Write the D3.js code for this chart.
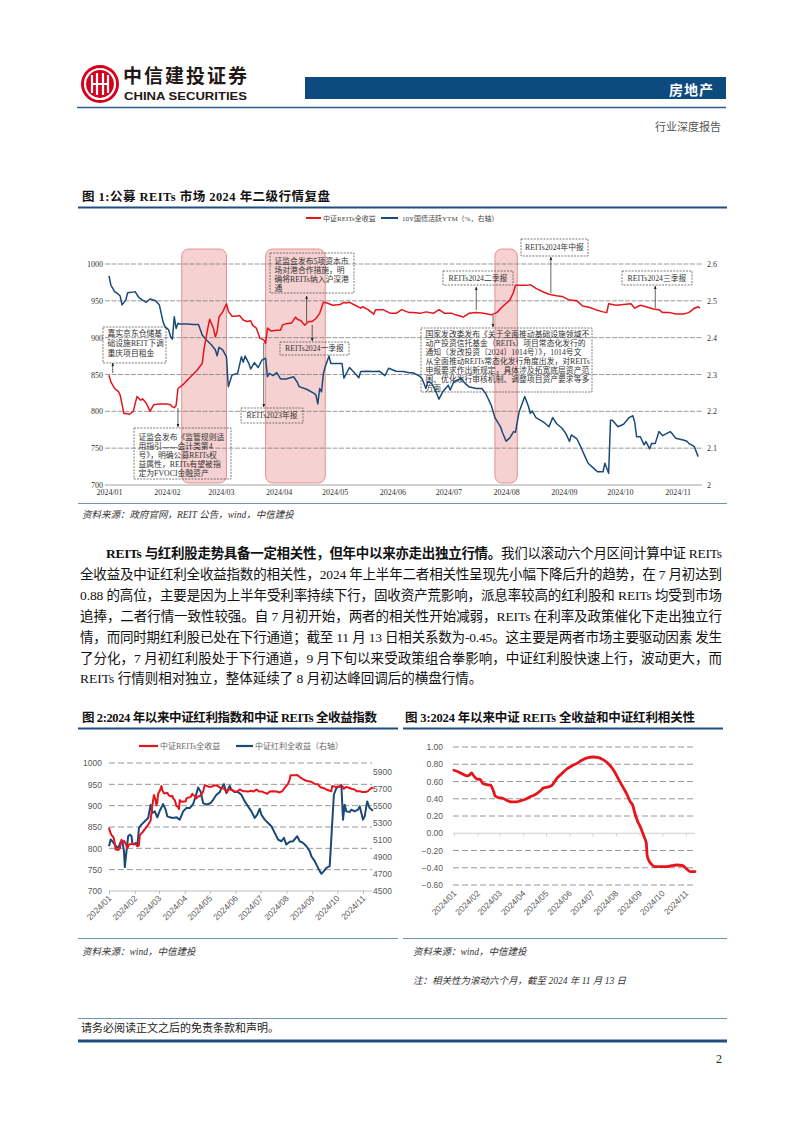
<!DOCTYPE html>
<html><head><meta charset="utf-8">
<script src="https://cdn.jsdelivr.net/npm/d3@7/dist/d3.min.js"></script>
<style>
body{margin:0;background:#fff;}
</style></head><body>
<svg id="page" width="802" height="1133" xmlns="http://www.w3.org/2000/svg"></svg>
<script>
// ---------------- DATA ----------------
// Chart 1 & 2: 中证REITs全收益 (left axis)
const reitsDates = ["01-01","01-02","01-04","01-06","01-07","01-09","01-10","01-12","01-14","01-16","01-18","01-19","01-21","01-23","01-25","01-28","02-01","02-03","02-04","02-05","02-06","02-07","02-10","02-13","02-17","02-20","02-21","02-23","02-24","02-26","02-27","02-28","02-29","03-02","03-04","03-05","03-07","03-09","03-11","03-13","03-15","03-17","03-18","03-20","03-22","03-24","03-25","03-26","03-28","03-31","04-02","04-03","04-05","04-08","04-10","04-11","04-13","04-15","04-17","04-19","04-21","04-23","04-25","04-27","04-30","05-04","05-06","05-07","05-09","05-12","05-15","05-16","05-19","05-22","05-23","05-27","05-31","06-03","06-06","06-10","06-12","06-16","06-19","06-23","06-26","06-29","07-03","07-05","07-09","07-12","07-16","07-20","07-24","07-27","07-30","08-03","08-05","08-06","08-08","08-12","08-14","08-17","08-21","08-24","08-28","08-31","09-04","09-08","09-11","09-15","09-18","09-22","09-24","09-25","09-29","10-03","10-07","10-09","10-12","10-15","10-19","10-22","10-24","10-28","10-31","11-04","11-07","11-10","11-12","11-13"];
const reitsValues = [849,840,831,827,822,797,797,796,800,820,815,817,811,800,809,810,810,809,806,805,808,831,837,845,855,865,885,913,925,913,901,908,928,935,946,936,929,929,930,924,922,923,917,913,899,897,892,913,909,910,910,917,919,920,928,925,923,917,922,922,926,933,948,947,944,945,948,947,948,944,940,942,938,932,938,938,933,933,938,934,934,933,935,933,938,933,933,931,928,933,934,933,931,934,942,951,962,971,971,971,972,967,962,959,957,956,951,950,943,941,938,935,934,946,944,945,946,940,944,942,939,938,934,934,932,932,934,940,942,940];
// Chart 1: 10Y国债活跃YTM (%, right axis)
const ytmDates = ["01-01","01-02","01-04","01-06","01-07","01-08","01-10","01-11","01-13","01-15","01-17","01-19","01-21","01-23","01-26","01-28","01-30","01-31","02-02","02-03","02-04","02-05","02-06","02-07","02-08","02-12","02-15","02-18","02-20","02-22","02-25","02-27","02-28","02-29","03-02","03-04","03-05","03-07","03-08","03-10","03-12","03-13","03-14","03-16","03-17","03-19","03-21","03-23","03-25","03-26","03-27","03-29","03-31","04-02","04-05","04-09","04-11","04-12","04-16","04-20","04-21","04-22","04-23","04-24","04-25","04-26","04-28","04-29","05-02","05-05","05-06","05-09","05-12","05-14","05-15","05-18","05-22","05-25","05-28","05-30","06-03","06-07","06-10","06-12","06-16","06-17","06-19","06-20","06-22","06-24","06-26","06-28","07-01","07-02","07-04","07-06","07-08","07-10","07-12","07-16","07-19","07-21","07-24","07-26","07-29","07-30","08-01","08-03","08-05","08-06","08-08","08-11","08-13","08-14","08-15","08-17","08-20","08-22","08-24","08-26","08-28","08-31","09-02","09-04","09-05","09-08","09-10","09-12","09-14","09-17","09-19","09-22","09-23","09-25","09-26","09-27","09-30","10-03","10-06","10-08","10-09","10-10","10-12","10-14","10-15","10-17","10-18","10-20","10-22","10-24","10-28","10-29","10-31","11-04","11-06","11-07","11-10","11-12"];
const ytmValues = [2.568,2.543,2.525,2.518,2.513,2.489,2.502,2.522,2.523,2.525,2.509,2.502,2.496,2.505,2.500,2.489,2.443,2.430,2.421,2.403,2.396,2.457,2.425,2.439,2.437,2.437,2.436,2.436,2.407,2.395,2.380,2.367,2.351,2.374,2.367,2.348,2.267,2.299,2.300,2.303,2.348,2.333,2.350,2.330,2.315,2.332,2.319,2.339,2.344,2.294,2.303,2.297,2.305,2.288,2.288,2.294,2.279,2.267,2.260,2.249,2.244,2.220,2.262,2.253,2.303,2.321,2.350,2.330,2.330,2.330,2.290,2.319,2.303,2.291,2.308,2.309,2.308,2.309,2.297,2.317,2.309,2.308,2.305,2.305,2.294,2.288,2.262,2.281,2.276,2.258,2.233,2.253,2.271,2.258,2.281,2.285,2.289,2.276,2.267,2.262,2.262,2.249,2.217,2.183,2.158,2.143,2.119,2.128,2.145,2.143,2.199,2.240,2.213,2.195,2.201,2.183,2.174,2.167,2.158,2.183,2.167,2.154,2.140,2.118,2.136,2.125,2.104,2.081,2.059,2.045,2.036,2.036,2.059,2.032,2.176,2.176,2.158,2.165,2.183,2.188,2.170,2.131,2.131,2.109,2.118,2.098,2.113,2.113,2.145,2.134,2.145,2.140,2.127,2.122,2.119,2.113,2.104,2.077];
// Chart 2: 中证红利全收益 (right axis)
const divDates = ["01-01","01-03","01-05","01-08","01-11","01-13","01-15","01-17","01-19","01-20","01-22","01-24","01-26","01-28","01-29","01-31","02-02","02-04","02-06","02-09","02-13","02-17","02-20","02-22","02-25","02-28","03-02","03-06","03-09","03-11","03-14","03-18","03-22","03-26","03-30","04-03","04-07","04-11","04-14","04-17","04-20","04-23","04-27","05-02","05-05","05-09","05-13","05-15","05-18","05-21","05-25","05-27","05-31","06-04","06-08","06-12","06-16","06-20","06-24","06-27","06-30","07-02","07-06","07-10","07-14","07-18","07-22","07-26","07-29","08-01","08-05","08-09","08-14","08-17","08-21","08-25","08-29","08-31","09-04","09-07","09-10","09-12","09-15","09-18","09-22","09-24","09-27","09-30","10-04","10-06","10-08","10-10","10-12","10-16","10-18","10-22","10-26","10-28","11-01","11-03","11-06","11-09","11-13"];
const divValues = [5025,5103,5083,5044,5006,5025,5076,5083,4967,4780,4967,5142,5161,5142,5064,5044,5064,5025,5239,5278,5317,5356,5511,5414,5433,5363,5441,5519,5453,5375,5363,5356,5363,5336,5433,5472,5472,5519,5608,5713,5667,5531,5511,5531,5569,5628,5659,5706,5752,5647,5733,5686,5659,5659,5628,5550,5492,5433,5356,5394,5464,5394,5336,5297,5258,5181,5103,5083,5122,5044,5076,5083,5142,5083,5064,5025,4967,4908,4850,4792,4733,4702,4733,4772,4792,5122,5628,5706,5725,5744,5336,5511,5433,5426,5453,5433,5453,5492,5336,5375,5550,5472,5440];
// Chart 3: rolling 6M correlation
const corrDates = ["01-01","01-07","01-13","01-18","01-21","01-24","01-27","02-01","02-04","02-08","02-13","02-18","02-22","02-24","02-28","03-06","03-10","03-17","03-23","03-28","04-03","04-10","04-17","04-23","04-28","05-04","05-09","05-15","05-22","05-28","06-04","06-10","06-17","06-24","07-02","07-09","07-15","07-22","07-29","08-04","08-10","08-15","08-20","08-23","08-26","08-29","09-03","09-07","09-10","09-11","09-13","09-17","09-21","09-28","10-07","10-13","10-20","10-28","11-02","11-07","11-13"];
const corrValues = [0.730,0.711,0.684,0.665,0.672,0.699,0.665,0.626,0.626,0.576,0.564,0.557,0.487,0.433,0.414,0.403,0.383,0.364,0.364,0.376,0.391,0.422,0.449,0.487,0.526,0.538,0.557,0.634,0.692,0.742,0.780,0.807,0.846,0.873,0.884,0.877,0.854,0.807,0.730,0.634,0.538,0.460,0.364,0.326,0.229,0.152,0.056,-0.041,-0.118,-0.253,-0.310,-0.360,-0.387,-0.387,-0.387,-0.376,-0.368,-0.376,-0.414,-0.445,-0.445];

const monthLabels = ["2024/01","2024/02","2024/03","2024/04","2024/05","2024/06","2024/07","2024/08","2024/09","2024/10","2024/11"];
const leftTicks = [700,750,800,850,900,950,1000];
const ytmTicks = [2.0,2.1,2.2,2.3,2.4,2.5,2.6];
const divTicks = [4500,4700,4900,5100,5300,5500,5700,5900];
const corrTicks = [-0.6,-0.4,-0.2,0,0.2,0.4,0.6,0.8,1.0];
const bandRanges = [["02-09","03-04"],["03-25","04-26"],["07-26","08-07"]];
const noteDates = ["01-03","02-07","04-16","04-19","03-24","07-16","08-25","10-20","07-25"];
const noteTexts = [
 ["嘉实京东仓储基","础设施REIT下调","重庆项目租金"],
 ["证监会发布《监管规则适","用指引——会计类第4","号》，明确公募REITs权","益属性，REITs有望被指","定为FVOCI金融资产"],
 ["证监会发布5项资本市","场对港合作措施，明","确将REITs纳入沪深港","通"],
 ["REITs2024一季报"],
 ["REITs2023年报"],
 ["REITs2024二季报"],
 ["REITs2024年中报"],
 ["REITs2024三季报"],
 ["国家发改委发布《关于全面推动基础设施领域不","动产投资信托基金（REITs）项目常态化发行的","通知（发改投资〔2024〕1014号）》，1014号文","从全面推动REITs常态化发行角度出发，对REITs","申报要求作出新规定，具体涉及拓宽底层资产范","围、优化发行审核机制、调整项目资产要求等多","方面"]
];

// ---------------- HELPERS ----------------
const SERIF = '"Liberation Serif","Noto Sans CJK SC",serif';
const SANS = '"Liberation Sans","Noto Sans CJK SC",sans-serif';
const RED = "#e8141c", BLUE = "#1b4a78", NAVY = "#0d4a7e";
const parse = s => d3.timeParse("%Y-%m-%d")("2024-" + s);
const monthDates = monthLabels.map((l, i) => new Date(2024, i, 1));
const zip = (ds, vs) => ds.map((d, i) => ({date: parse(d), value: vs[i]}));
const svg = d3.select("#page");

const defs = svg.append("defs");
defs.append("marker").attr("id", "arr").attr("viewBox", "0 0 10 10").attr("refX", 9).attr("refY", 5)
  .attr("markerWidth", 5).attr("markerHeight", 5).attr("orient", "auto")
  .append("path").attr("d", "M0,1 L10,5 L0,9 z").attr("fill", "#222");

// ---------------- HEADER ----------------
const logo = svg.append("g").attr("transform", "translate(100,84)");
logo.append("circle").attr("r", 19).attr("fill", "#d5001c");
logo.append("circle").attr("r", 15).attr("fill", "none").attr("stroke", "#fff").attr("stroke-width", 2.2);
[-8, -3, 3, 8].forEach((dx, i) => {
  logo.append("rect").attr("x", dx - 1.1).attr("y", i % 3 === 0 ? -9 : -11).attr("width", 2.2)
    .attr("height", i % 3 === 0 ? 18 : 22).attr("fill", "#fff");
});
logo.append("rect").attr("x", -8).attr("y", -1).attr("width", 16).attr("height", 2).attr("fill", "#fff");
svg.append("text").attr("x", 123).attr("y", 83).attr("font-family", '"Noto Sans CJK SC",sans-serif')
  .attr("font-weight", 700).attr("font-size", 19).attr("fill", "#231815").attr("textLength", 124)
  .text("中信建投证券");
svg.append("text").attr("x", 124).attr("y", 100).attr("font-family", SANS).attr("font-weight", 700)
  .attr("font-size", 11.5).attr("fill", "#231815").attr("textLength", 123).attr("lengthAdjust", "spacingAndGlyphs")
  .text("CHINA SECURITIES");
svg.append("rect").attr("x", 305).attr("y", 77).attr("width", 421).attr("height", 22).attr("fill", NAVY);
svg.append("text").attr("x", 714).attr("y", 95).attr("text-anchor", "end").attr("font-family", '"Noto Sans CJK SC",sans-serif')
  .attr("font-weight", 700).attr("font-size", 14).attr("fill", "#fff").attr("letter-spacing", 1).text("房地产");
svg.append("line").attr("x1", 77).attr("x2", 726).attr("y1", 107.5).attr("y2", 107.5).attr("stroke", "#2d5e8e").attr("stroke-width", 1.5);
svg.append("text").attr("x", 721).attr("y", 131).attr("text-anchor", "end").attr("font-family", SERIF)
  .attr("font-size", 11).attr("fill", "#555").text("行业深度报告");

// ---------------- CHART 1 ----------------
svg.append("text").attr("x", 82).attr("y", 201).attr("font-family", SERIF).attr("font-weight", 700)
  .attr("font-size", 12.5).attr("fill", "#111").attr("textLength", 248).text("图 1:公募 REITs 市场 2024 年二级行情复盘");
svg.append("line").attr("x1", 78).attr("x2", 727).attr("y1", 207.5).attr("y2", 207.5).attr("stroke", "#1f4f7f").attr("stroke-width", 1.8);

const x1 = d3.scaleTime().domain([new Date(2024,0,1), new Date(2024,10,13)]).range([109, 700]);
const yL1 = d3.scaleLinear().domain([700, 1000]).range([485, 264]);
const yR1 = d3.scaleLinear().domain([2.0, 2.6]).range([485, 264]);
const g1 = svg.append("g");

const leg1 = g1.append("g").attr("font-family", SERIF).attr("font-size", 7).attr("fill", "#444");
leg1.append("line").attr("x1", 306).attr("x2", 321).attr("y1", 218).attr("y2", 218).attr("stroke", RED).attr("stroke-width", 2);
leg1.append("text").attr("x", 323).attr("y", 220.5).text("中证REITs全收益");
leg1.append("line").attr("x1", 381).attr("x2", 398).attr("y1", 218).attr("y2", 218).attr("stroke", BLUE).attr("stroke-width", 2);
leg1.append("text").attr("x", 402).attr("y", 220.5).text("10Y国债活跃YTM（%，右轴）");

g1.selectAll("rect.band").data(bandRanges).join("rect").attr("class", "band")
  .attr("x", d => x1(parse(d[0]))).attr("width", d => x1(parse(d[1])) - x1(parse(d[0])))
  .attr("y", 249).attr("height", 234).attr("rx", 7)
  .attr("fill", "#f2c6c6").attr("fill-opacity", 0.8).attr("stroke", "#e07b7b").attr("stroke-width", 0.8);

g1.selectAll("line.grid").data(leftTicks.slice(1)).join("line").attr("class", "grid")
  .attr("x1", 105).attr("x2", 702).attr("y1", d => yL1(d)).attr("y2", d => yL1(d))
  .attr("stroke", "#6f6f6f").attr("stroke-width", 0.7).attr("stroke-dasharray", "5,1.5");
g1.append("line").attr("x1", 105).attr("x2", 702).attr("y1", yL1(700)).attr("y2", yL1(700)).attr("stroke", "#8a8a8a").attr("stroke-width", 0.8);

const ax1L = g1.append("g").attr("transform", "translate(106,0)")
  .call(d3.axisLeft(yL1).tickValues(leftTicks).tickSize(0).tickPadding(3).tickFormat(d3.format("d")));
const ax1R = g1.append("g").attr("transform", "translate(702,0)")
  .call(d3.axisRight(yR1).tickValues(ytmTicks).tickSize(0).tickPadding(5).tickFormat(d => String(+d.toFixed(1))));
const ax1B = g1.append("g").attr("transform", "translate(0,485)")
  .call(d3.axisBottom(x1).tickValues(monthDates).tickSize(0).tickPadding(4).tickFormat((d, i) => monthLabels[i]));
[ax1L, ax1R, ax1B].forEach(a => {
  a.select(".domain").remove();
  a.attr("font-family", SERIF).attr("font-size", 8);
  a.selectAll("text").attr("fill", "#333");
});
ax1B.selectAll("text").attr("dy", "0.75em");

const noteLayout = [
  {x:103,y:327,w:63,h:36,first:6,lh:10,a:[373,363]},
  {x:134,y:428,w:97,h:51,first:9,lh:9,a:[408,427]},
  {x:270,y:253,w:84,h:40,first:8,lh:9,a:[322,296]},
  {x:280,y:342,w:69,h:13,first:6.5,lh:9,a:[325,341]},
  {x:241,y:408,w:62,h:15,first:7.5,lh:9,a:[343,407]},
  {x:443,y:271,w:70,h:14,first:7,lh:9,a:[310,287]},
  {x:521,y:239,w:67,h:17,first:8.5,lh:9,a:[293,257]},
  {x:622,y:271,w:70,h:14,first:7,lh:9,a:[308,286]},
  {x:421,y:328,w:171,h:64,first:6,lh:9,a:[315,327]}
];
const notes = g1.append("g").attr("font-family", SERIF).attr("font-size", 7.8).attr("fill", "#333");
noteTexts.forEach((lines, i) => {
  const L = noteLayout[i];
  notes.append("rect").attr("x", L.x).attr("y", L.y).attr("width", L.w).attr("height", L.h)
    .attr("fill", "none").attr("stroke", "#444").attr("stroke-width", 0.7).attr("stroke-dasharray", "2,1.2");
  lines.forEach((t, j) => {
    const single = lines.length === 1;
    notes.append("text").attr("x", single ? L.x + L.w / 2 : L.x + 4.5).attr("text-anchor", single ? "middle" : "start")
      .attr("y", L.y + L.first + j * L.lh + 2.8).text(t);
  });
  const ax = x1(parse(noteDates[i]));
  notes.append("line").attr("x1", ax).attr("x2", ax).attr("y1", L.a[0]).attr("y2", L.a[1])
    .attr("stroke", "#222").attr("stroke-width", 0.7).attr("marker-end", "url(#arr)");
});

const line1L = d3.line().x(d => x1(d.date)).y(d => yL1(d.value));
const line1R = d3.line().x(d => x1(d.date)).y(d => yR1(d.value));
g1.append("path").datum(zip(ytmDates, ytmValues)).attr("d", line1R).attr("fill", "none")
  .attr("stroke", BLUE).attr("stroke-width", 1.5).attr("stroke-linejoin", "round");
g1.append("path").datum(zip(reitsDates, reitsValues)).attr("d", line1L).attr("fill", "none")
  .attr("stroke", RED).attr("stroke-width", 1.5).attr("stroke-linejoin", "round");

svg.append("line").attr("x1", 78).attr("x2", 727).attr("y1", 503.5).attr("y2", 503.5).attr("stroke", "#4c7aa6").attr("stroke-width", 0.8);
svg.append("text").attr("x", 82).attr("y", 518).attr("font-family", SERIF).attr("font-style", "italic")
  .attr("font-size", 9.5).attr("fill", "#333").text("资料来源：政府官网，REIT 公告，wind，中信建投");

// ---------------- PARAGRAPH ----------------
const para = [
  {x:106, len:616, parts:[{t:"REITs 与红利股走势具备一定相关性，但年中以来亦走出独立行情。", b:true},{t:"我们以滚动六个月区间计算中证 REITs"}]},
  {x:80, len:642, parts:[{t:"全收益及中证红利全收益指数的相关性，2024 年上半年二者相关性呈现先小幅下降后升的趋势，在 7 月初达到"}]},
  {x:80, len:642, parts:[{t:"0.88 的高位，主要是因为上半年受利率持续下行，固收资产荒影响，派息率较高的红利股和 REITs 均受到市场"}]},
  {x:80, len:642, parts:[{t:"追捧，二者行情一致性较强。自 7 月初开始，两者的相关性开始减弱，REITs 在利率及政策催化下走出独立行"}]},
  {x:80, len:642, parts:[{t:"情，而同时期红利股已处在下行通道；截至 11 月 13 日相关系数为-0.45。这主要是两者市场主要驱动因素 发生"}]},
  {x:80, len:642, parts:[{t:"了分化，7 月初红利股处于下行通道，9 月下旬以来受政策组合拳影响，中证红利股快速上行，波动更大，而"}]},
  {x:80, len:null, parts:[{t:"REITs 行情则相对独立，整体延续了 8 月初达峰回调后的横盘行情。"}]}
];
const paraBase = [558, 579, 600, 620.5, 641.5, 662.5, 683];
para.forEach((p, i) => {
  const t = svg.append("text").attr("x", p.x).attr("y", paraBase[i]).attr("font-family", SERIF)
    .attr("font-size", 13.5).attr("fill", "#111");
  if (p.len) t.attr("textLength", p.len).attr("lengthAdjust", "spacing");
  p.parts.forEach(s => t.append("tspan").attr("font-weight", s.b ? 700 : 400).text(s.t));
});

// ---------------- CHART 2 ----------------
svg.append("text").attr("x", 82).attr("y", 722).attr("font-family", SERIF).attr("font-weight", 700)
  .attr("font-size", 12.5).attr("fill", "#111").attr("textLength", 295).text("图 2:2024 年以来中证红利指数和中证 REITs 全收益指数");
svg.append("line").attr("x1", 78).attr("x2", 398).attr("y1", 728.5).attr("y2", 728.5).attr("stroke", "#1f4f7f").attr("stroke-width", 1.8);

const x2 = d3.scaleTime().domain([new Date(2024,0,1), new Date(2024,10,13)]).range([109, 373]);
const yL2 = d3.scaleLinear().domain([700, 1000]).range([891, 763]);
const yR2 = d3.scaleLinear().domain([4500, 6000]).range([891, 763]);
const g2 = svg.append("g");
const leg2 = g2.append("g").attr("font-family", SERIF).attr("font-size", 8).attr("fill", "#666");
leg2.append("line").attr("x1", 139).attr("x2", 158).attr("y1", 746).attr("y2", 746).attr("stroke", RED).attr("stroke-width", 2.2);
leg2.append("text").attr("x", 160).attr("y", 749).text("中证REITs全收益");
leg2.append("line").attr("x1", 236).attr("x2", 253).attr("y1", 746).attr("y2", 746).attr("stroke", BLUE).attr("stroke-width", 2.2);
leg2.append("text").attr("x", 255).attr("y", 749).text("中证红利全收益（右轴）");

g2.selectAll("line.grid").data(leftTicks.slice(1)).join("line").attr("class", "grid")
  .attr("x1", 109).attr("x2", 372).attr("y1", d => yL2(d)).attr("y2", d => yL2(d))
  .attr("stroke", "#8c8c8c").attr("stroke-width", 0.9).attr("stroke-dasharray", "6,3");
const ax2B = g2.append("g").attr("transform", "translate(0,891)")
  .call(d3.axisBottom(x2).tickValues(monthDates).tickSize(3).tickFormat((d, i) => monthLabels[i]));
ax2B.select(".domain").attr("stroke", "#bdbdbd").attr("d", "M109,0H372");
ax2B.selectAll("line").attr("stroke", "#bdbdbd");
ax2B.selectAll("text").attr("x", 0).attr("y", 0).attr("dy", 0).attr("text-anchor", "end")
  .attr("transform", "translate(2.5,8) rotate(-45)");
const ax2L = g2.append("g").attr("transform", "translate(106,0)")
  .call(d3.axisLeft(yL2).tickValues(leftTicks).tickSize(0).tickPadding(4).tickFormat(d3.format("d")));
const ax2R = g2.append("g").attr("transform", "translate(370,0)")
  .call(d3.axisRight(yR2).tickValues(divTicks).tickSize(0).tickPadding(3).tickFormat(d3.format("d")));
[ax2B, ax2L, ax2R].forEach(a => {
  a.attr("font-family", SANS).attr("font-size", 8.5);
  a.selectAll("text").attr("fill", "#595959");
});
ax2L.select(".domain").remove(); ax2R.select(".domain").remove();

g2.append("path").datum(zip(divDates, divValues)).attr("d", d3.line().x(d => x2(d.date)).y(d => yR2(d.value)))
  .attr("fill", "none").attr("stroke", BLUE).attr("stroke-width", 2).attr("stroke-linejoin", "round");
g2.append("path").datum(zip(reitsDates, reitsValues)).attr("d", d3.line().x(d => x2(d.date)).y(d => yL2(d.value)))
  .attr("fill", "none").attr("stroke", RED).attr("stroke-width", 2).attr("stroke-linejoin", "round");

// ---------------- CHART 3 ----------------
svg.append("text").attr("x", 405).attr("y", 722).attr("font-family", SERIF).attr("font-weight", 700)
  .attr("font-size", 12.5).attr("fill", "#111").attr("textLength", 290).text("图 3:2024 年以来中证 REITs 全收益和中证红利相关性");
svg.append("line").attr("x1", 403).attr("x2", 723).attr("y1", 728.5).attr("y2", 728.5).attr("stroke", "#1f4f7f").attr("stroke-width", 1.8);

const x3 = d3.scaleTime().domain([new Date(2024,0,1), new Date(2024,10,13)]).range([454, 695]);
const y3 = d3.scaleLinear().domain([-0.6, 1.0]).range([885, 747]);
const g3 = svg.append("g");
g3.selectAll("line.grid").data(corrTicks.filter(d => d !== 0)).join("line").attr("class", "grid")
  .attr("x1", 453).attr("x2", 695).attr("y1", d => y3(d)).attr("y2", d => y3(d))
  .attr("stroke", "#8c8c8c").attr("stroke-width", 0.9).attr("stroke-dasharray", "6,3");
const ax3Z = g3.append("g").attr("transform", `translate(0,${y3(0)})`)
  .call(d3.axisBottom(x3).tickValues(monthDates).tickSize(3).tickFormat(""));
ax3Z.select(".domain").attr("stroke", "#cfcfcf").attr("d", "M453,0H695");
ax3Z.selectAll("line").attr("stroke", "#cfcfcf");
const ax3B = g3.append("g").attr("transform", "translate(0,885)")
  .call(d3.axisBottom(x3).tickValues(monthDates).tickSize(0).tickFormat((d, i) => monthLabels[i]));
ax3B.select(".domain").remove();
ax3B.selectAll("text").attr("x", 0).attr("y", 0).attr("dy", 0).attr("text-anchor", "end")
  .attr("transform", "translate(2.5,9) rotate(-45)");
const ax3L = g3.append("g").attr("transform", "translate(447,0)")
  .call(d3.axisLeft(y3).tickValues(corrTicks).tickSize(0).tickPadding(4).tickFormat(d3.format(".2f")));
ax3L.select(".domain").remove();
[ax3B, ax3L].forEach(a => {
  a.attr("font-family", SANS).attr("font-size", 8.5);
  a.selectAll("text").attr("fill", "#595959");
});
g3.append("path").datum(zip(corrDates, corrValues)).attr("d", d3.line().x(d => x3(d.date)).y(d => y3(d.value)).curve(d3.curveMonotoneX))
  .attr("fill", "none").attr("stroke", RED).attr("stroke-width", 2.8).attr("stroke-linejoin", "round").attr("stroke-linecap", "round");

// ---------------- SOURCES & FOOTER ----------------
svg.append("line").attr("x1", 78).attr("x2", 398).attr("y1", 938.5).attr("y2", 938.5).attr("stroke", "#4c7aa6").attr("stroke-width", 0.8);
svg.append("line").attr("x1", 403).attr("x2", 727).attr("y1", 938.5).attr("y2", 938.5).attr("stroke", "#4c7aa6").attr("stroke-width", 0.8);
const src = svg.append("g").attr("font-family", SERIF).attr("font-style", "italic").attr("font-size", 9.5).attr("fill", "#333");
src.append("text").attr("x", 82).attr("y", 955).text("资料来源：wind，中信建投");
src.append("text").attr("x", 413).attr("y", 955).text("资料来源：wind，中信建投");
src.append("text").attr("x", 413).attr("y", 984).text("注：相关性为滚动六个月，截至 2024 年 11 月 13 日");

svg.append("line").attr("x1", 78).attr("x2", 727).attr("y1", 1018.5).attr("y2", 1018.5).attr("stroke", "#4c7aa6").attr("stroke-width", 0.8);
svg.append("text").attr("x", 81).attr("y", 1032).attr("font-family", SERIF).attr("font-size", 11).attr("fill", "#222")
  .text("请务必阅读正文之后的免责条款和声明。");
svg.append("line").attr("x1", 78).attr("x2", 727).attr("y1", 1041).attr("y2", 1041).attr("stroke", "#1f4f7f").attr("stroke-width", 3);
svg.append("text").attr("x", 722).attr("y", 1063).attr("text-anchor", "end").attr("font-family", SERIF).attr("font-size", 12).attr("fill", "#222").text("2");
</script></body></html>
